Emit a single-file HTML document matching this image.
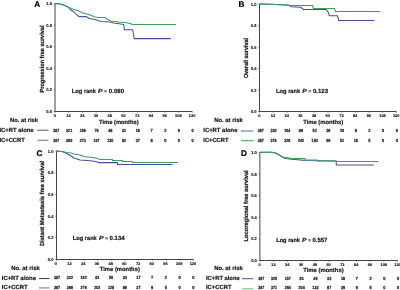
<!DOCTYPE html><html><head><meta charset="utf-8"><style>html,body{margin:0;padding:0;background:#fff;width:400px;height:290px;overflow:hidden}svg{display:block;will-change:transform;filter:blur(0.2px)}text{font-family:"Liberation Sans", sans-serif;text-rendering:geometricPrecision}</style></head><body>
<svg width="400" height="290" viewBox="0 0 400 290">
<rect width="400" height="290" fill="#fff"/>
<path d="M55 3.6V111.5H192.3" fill="none" stroke="#3a3a3a" stroke-width="0.95"/>
<path d="M53.7 111.5H55M53.7 89.92H55M53.7 68.34H55M53.7 46.76H55M53.7 25.18H55M53.7 3.6H55M55 111.5V112.7M68.73 111.5V112.7M82.46 111.5V112.7M96.19 111.5V112.7M109.92 111.5V112.7M123.65 111.5V112.7M137.38 111.5V112.7M151.11 111.5V112.7M164.84 111.5V112.7M178.57 111.5V112.7M192.3 111.5V112.7" stroke="#3a3a3a" stroke-width="0.6"/>
<text x="51.9" y="113" font-size="4.2" font-weight="bold" fill="#1a1a1a" stroke="#1a1a1a" stroke-width="0.15" text-anchor="end" textLength="5.6" lengthAdjust="spacingAndGlyphs">0.0</text>
<text x="51.9" y="91.42" font-size="4.2" font-weight="bold" fill="#1a1a1a" stroke="#1a1a1a" stroke-width="0.15" text-anchor="end" textLength="5.6" lengthAdjust="spacingAndGlyphs">0.2</text>
<text x="51.9" y="69.84" font-size="4.2" font-weight="bold" fill="#1a1a1a" stroke="#1a1a1a" stroke-width="0.15" text-anchor="end" textLength="5.6" lengthAdjust="spacingAndGlyphs">0.4</text>
<text x="51.9" y="48.26" font-size="4.2" font-weight="bold" fill="#1a1a1a" stroke="#1a1a1a" stroke-width="0.15" text-anchor="end" textLength="5.6" lengthAdjust="spacingAndGlyphs">0.6</text>
<text x="51.9" y="26.68" font-size="4.2" font-weight="bold" fill="#1a1a1a" stroke="#1a1a1a" stroke-width="0.15" text-anchor="end" textLength="5.6" lengthAdjust="spacingAndGlyphs">0.8</text>
<text x="51.9" y="5.1" font-size="4.2" font-weight="bold" fill="#1a1a1a" stroke="#1a1a1a" stroke-width="0.15" text-anchor="end" textLength="5.6" lengthAdjust="spacingAndGlyphs">1.0</text>
<text x="54.8" y="117.4" font-size="3.9" font-weight="bold" fill="#1a1a1a" stroke="#1a1a1a" stroke-width="0.15" text-anchor="middle">0</text>
<text x="68.53" y="117.4" font-size="3.9" font-weight="bold" fill="#1a1a1a" stroke="#1a1a1a" stroke-width="0.15" text-anchor="middle">12</text>
<text x="82.26" y="117.4" font-size="3.9" font-weight="bold" fill="#1a1a1a" stroke="#1a1a1a" stroke-width="0.15" text-anchor="middle">24</text>
<text x="95.99" y="117.4" font-size="3.9" font-weight="bold" fill="#1a1a1a" stroke="#1a1a1a" stroke-width="0.15" text-anchor="middle">36</text>
<text x="109.72" y="117.4" font-size="3.9" font-weight="bold" fill="#1a1a1a" stroke="#1a1a1a" stroke-width="0.15" text-anchor="middle">48</text>
<text x="123.45" y="117.4" font-size="3.9" font-weight="bold" fill="#1a1a1a" stroke="#1a1a1a" stroke-width="0.15" text-anchor="middle">60</text>
<text x="137.18" y="117.4" font-size="3.9" font-weight="bold" fill="#1a1a1a" stroke="#1a1a1a" stroke-width="0.15" text-anchor="middle">72</text>
<text x="150.91" y="117.4" font-size="3.9" font-weight="bold" fill="#1a1a1a" stroke="#1a1a1a" stroke-width="0.15" text-anchor="middle">84</text>
<text x="164.64" y="117.4" font-size="3.9" font-weight="bold" fill="#1a1a1a" stroke="#1a1a1a" stroke-width="0.15" text-anchor="middle">96</text>
<text x="178.37" y="117.4" font-size="3.9" font-weight="bold" fill="#1a1a1a" stroke="#1a1a1a" stroke-width="0.15" text-anchor="middle">108</text>
<text x="192.1" y="117.4" font-size="3.9" font-weight="bold" fill="#1a1a1a" stroke="#1a1a1a" stroke-width="0.15" text-anchor="middle">120</text>
<text x="34.2" y="6.8" font-size="8.2" font-weight="bold" fill="#000" stroke="#000" stroke-width="0.2">A</text>
<text transform="translate(43.5 59) rotate(-90)" x="0" y="0" font-size="5.9" font-weight="bold" fill="#1a1a1a" stroke="#1a1a1a" stroke-width="0.25" text-anchor="middle" textLength="67" lengthAdjust="spacingAndGlyphs">Progression free survival</text>
<text x="71.7" y="93" font-size="5.9" font-weight="bold" fill="#1a1a1a" stroke="#1a1a1a" stroke-width="0.2" textLength="10.64" lengthAdjust="spacingAndGlyphs">Log</text>
<text x="83.95" y="93" font-size="5.9" font-weight="bold" fill="#1a1a1a" stroke="#1a1a1a" stroke-width="0.2" textLength="11.94" lengthAdjust="spacingAndGlyphs">rank</text>
<text x="98.1" y="93" font-size="5.9" font-weight="bold" font-style="italic" fill="#1a1a1a" stroke="#1a1a1a" stroke-width="0.2" textLength="4.62" lengthAdjust="spacingAndGlyphs">P</text>
<text x="104.12" y="93" font-size="5.9" font-weight="bold" fill="#1a1a1a" stroke="#1a1a1a" stroke-width="0" textLength="3.11" lengthAdjust="spacingAndGlyphs">=</text>
<text x="108.84" y="93" font-size="5.9" font-weight="bold" fill="#1a1a1a" stroke="#1a1a1a" stroke-width="0.2" textLength="15.26" lengthAdjust="spacingAndGlyphs">0.080</text>
<text x="99" y="124" font-size="5.9" font-weight="bold" fill="#1a1a1a" stroke="#1a1a1a" stroke-width="0.2" textLength="39.7" lengthAdjust="spacingAndGlyphs">Time (months)</text>
<text x="10.1" y="121.5" font-size="5.9" font-weight="bold" fill="#1a1a1a" stroke="#1a1a1a" stroke-width="0.2" textLength="27.8" lengthAdjust="spacingAndGlyphs">No. at risk</text>
<text x="-0.6" y="131.9" font-size="5.9" font-weight="bold" fill="#1a1a1a" stroke="#1a1a1a" stroke-width="0.2" textLength="34.2" lengthAdjust="spacingAndGlyphs">IC+RT alone</text>
<text x="-0.6" y="141.5" font-size="5.9" font-weight="bold" fill="#1a1a1a" stroke="#1a1a1a" stroke-width="0.2" textLength="25.4" lengthAdjust="spacingAndGlyphs">IC+CCRT</text>
<path d="M37.2 130.2H48.5" stroke="#55658a" stroke-width="1.1"/>
<path d="M37.2 140.3H48.5" stroke="#6a8f6a" stroke-width="1.1"/>
<text x="56.3" y="132.1" font-size="4.4" font-weight="bold" fill="#1a1a1a" stroke="#1a1a1a" stroke-width="0.22" text-anchor="middle" textLength="6.1" lengthAdjust="spacingAndGlyphs">387</text>
<text x="69.13" y="132.1" font-size="4.4" font-weight="bold" fill="#1a1a1a" stroke="#1a1a1a" stroke-width="0.22" text-anchor="middle" textLength="6.1" lengthAdjust="spacingAndGlyphs">321</text>
<text x="82.86" y="132.1" font-size="4.4" font-weight="bold" fill="#1a1a1a" stroke="#1a1a1a" stroke-width="0.22" text-anchor="middle" textLength="6.1" lengthAdjust="spacingAndGlyphs">156</text>
<text x="96.59" y="132.1" font-size="4.4" font-weight="bold" fill="#1a1a1a" stroke="#1a1a1a" stroke-width="0.22" text-anchor="middle" textLength="4.2" lengthAdjust="spacingAndGlyphs">79</text>
<text x="110.32" y="132.1" font-size="4.4" font-weight="bold" fill="#1a1a1a" stroke="#1a1a1a" stroke-width="0.22" text-anchor="middle" textLength="4.2" lengthAdjust="spacingAndGlyphs">48</text>
<text x="124.05" y="132.1" font-size="4.4" font-weight="bold" fill="#1a1a1a" stroke="#1a1a1a" stroke-width="0.22" text-anchor="middle" textLength="4.2" lengthAdjust="spacingAndGlyphs">31</text>
<text x="137.78" y="132.1" font-size="4.4" font-weight="bold" fill="#1a1a1a" stroke="#1a1a1a" stroke-width="0.22" text-anchor="middle" textLength="4.2" lengthAdjust="spacingAndGlyphs">16</text>
<text x="151.51" y="132.1" font-size="4.4" font-weight="bold" fill="#1a1a1a" stroke="#1a1a1a" stroke-width="0.22" text-anchor="middle" textLength="2.2" lengthAdjust="spacingAndGlyphs">7</text>
<text x="165.24" y="132.1" font-size="4.4" font-weight="bold" fill="#1a1a1a" stroke="#1a1a1a" stroke-width="0.22" text-anchor="middle" textLength="2.2" lengthAdjust="spacingAndGlyphs">2</text>
<text x="178.97" y="132.1" font-size="4.4" font-weight="bold" fill="#1a1a1a" stroke="#1a1a1a" stroke-width="0.22" text-anchor="middle" textLength="2.2" lengthAdjust="spacingAndGlyphs">0</text>
<text x="192.7" y="132.1" font-size="4.4" font-weight="bold" fill="#1a1a1a" stroke="#1a1a1a" stroke-width="0.22" text-anchor="middle" textLength="2.2" lengthAdjust="spacingAndGlyphs">0</text>
<text x="56.3" y="141.8" font-size="4.4" font-weight="bold" fill="#1a1a1a" stroke="#1a1a1a" stroke-width="0.22" text-anchor="middle" textLength="6.1" lengthAdjust="spacingAndGlyphs">387</text>
<text x="69.13" y="141.8" font-size="4.4" font-weight="bold" fill="#1a1a1a" stroke="#1a1a1a" stroke-width="0.22" text-anchor="middle" textLength="6.1" lengthAdjust="spacingAndGlyphs">369</text>
<text x="82.86" y="141.8" font-size="4.4" font-weight="bold" fill="#1a1a1a" stroke="#1a1a1a" stroke-width="0.22" text-anchor="middle" textLength="6.1" lengthAdjust="spacingAndGlyphs">273</text>
<text x="96.59" y="141.8" font-size="4.4" font-weight="bold" fill="#1a1a1a" stroke="#1a1a1a" stroke-width="0.22" text-anchor="middle" textLength="6.1" lengthAdjust="spacingAndGlyphs">197</text>
<text x="110.32" y="141.8" font-size="4.4" font-weight="bold" fill="#1a1a1a" stroke="#1a1a1a" stroke-width="0.22" text-anchor="middle" textLength="6.1" lengthAdjust="spacingAndGlyphs">130</text>
<text x="124.05" y="141.8" font-size="4.4" font-weight="bold" fill="#1a1a1a" stroke="#1a1a1a" stroke-width="0.22" text-anchor="middle" textLength="4.2" lengthAdjust="spacingAndGlyphs">82</text>
<text x="137.78" y="141.8" font-size="4.4" font-weight="bold" fill="#1a1a1a" stroke="#1a1a1a" stroke-width="0.22" text-anchor="middle" textLength="4.2" lengthAdjust="spacingAndGlyphs">37</text>
<text x="151.51" y="141.8" font-size="4.4" font-weight="bold" fill="#1a1a1a" stroke="#1a1a1a" stroke-width="0.22" text-anchor="middle" textLength="2.2" lengthAdjust="spacingAndGlyphs">8</text>
<text x="165.24" y="141.8" font-size="4.4" font-weight="bold" fill="#1a1a1a" stroke="#1a1a1a" stroke-width="0.22" text-anchor="middle" textLength="2.2" lengthAdjust="spacingAndGlyphs">0</text>
<text x="178.97" y="141.8" font-size="4.4" font-weight="bold" fill="#1a1a1a" stroke="#1a1a1a" stroke-width="0.22" text-anchor="middle" textLength="2.2" lengthAdjust="spacingAndGlyphs">0</text>
<text x="192.7" y="141.8" font-size="4.4" font-weight="bold" fill="#1a1a1a" stroke="#1a1a1a" stroke-width="0.22" text-anchor="middle" textLength="2.2" lengthAdjust="spacingAndGlyphs">0</text>
<path d="M55 3.6 L57 3.6 L62.75 4.5 L67.75 7 L70.25 9.5 L74 12 L77.75 16 L79.6 16.6 L86.5 16.6 L89 18.5 L95.25 19.5 L97.75 20.5 L101.5 21.5 L110 22 L113.75 23 L117.5 23.5 L122.5 24.3 L123.8 24.5 L124.3 29.8 L132.6 29.8 L133.2 32.5 L134.2 38.6 L170.75 38.6" fill="none" stroke="#444ea0" stroke-width="1.05" stroke-linejoin="round"/>
<path d="M55 3.6 L57 3.6 L64 5 L69 7.5 L72.75 9 L77.75 10.5 L82.75 13 L89 14.5 L95.25 17 L97.75 17.5 L105 17.5 L107.5 19.5 L111.25 21 L115 21.5 L118.75 22 L125 22.5 L130 23.5 L132.5 24.5 L176 24.5" fill="none" stroke="#3d9c60" stroke-width="1.05" stroke-linejoin="round"/>
<path d="M259.5 4V111.5H396.4" fill="none" stroke="#3a3a3a" stroke-width="0.95"/>
<path d="M258.2 111.5H259.5M258.2 90H259.5M258.2 68.5H259.5M258.2 47H259.5M258.2 25.5H259.5M258.2 4H259.5M259.5 111.5V112.7M273.19 111.5V112.7M286.88 111.5V112.7M300.57 111.5V112.7M314.26 111.5V112.7M327.95 111.5V112.7M341.64 111.5V112.7M355.33 111.5V112.7M369.02 111.5V112.7M382.71 111.5V112.7M396.4 111.5V112.7" stroke="#3a3a3a" stroke-width="0.6"/>
<text x="256.4" y="113" font-size="4.2" font-weight="bold" fill="#1a1a1a" stroke="#1a1a1a" stroke-width="0.15" text-anchor="end" textLength="5.6" lengthAdjust="spacingAndGlyphs">0.0</text>
<text x="256.4" y="91.5" font-size="4.2" font-weight="bold" fill="#1a1a1a" stroke="#1a1a1a" stroke-width="0.15" text-anchor="end" textLength="5.6" lengthAdjust="spacingAndGlyphs">0.2</text>
<text x="256.4" y="70" font-size="4.2" font-weight="bold" fill="#1a1a1a" stroke="#1a1a1a" stroke-width="0.15" text-anchor="end" textLength="5.6" lengthAdjust="spacingAndGlyphs">0.4</text>
<text x="256.4" y="48.5" font-size="4.2" font-weight="bold" fill="#1a1a1a" stroke="#1a1a1a" stroke-width="0.15" text-anchor="end" textLength="5.6" lengthAdjust="spacingAndGlyphs">0.6</text>
<text x="256.4" y="27" font-size="4.2" font-weight="bold" fill="#1a1a1a" stroke="#1a1a1a" stroke-width="0.15" text-anchor="end" textLength="5.6" lengthAdjust="spacingAndGlyphs">0.8</text>
<text x="256.4" y="5.5" font-size="4.2" font-weight="bold" fill="#1a1a1a" stroke="#1a1a1a" stroke-width="0.15" text-anchor="end" textLength="5.6" lengthAdjust="spacingAndGlyphs">1.0</text>
<text x="259.3" y="117.4" font-size="3.9" font-weight="bold" fill="#1a1a1a" stroke="#1a1a1a" stroke-width="0.15" text-anchor="middle">0</text>
<text x="272.99" y="117.4" font-size="3.9" font-weight="bold" fill="#1a1a1a" stroke="#1a1a1a" stroke-width="0.15" text-anchor="middle">12</text>
<text x="286.68" y="117.4" font-size="3.9" font-weight="bold" fill="#1a1a1a" stroke="#1a1a1a" stroke-width="0.15" text-anchor="middle">24</text>
<text x="300.37" y="117.4" font-size="3.9" font-weight="bold" fill="#1a1a1a" stroke="#1a1a1a" stroke-width="0.15" text-anchor="middle">36</text>
<text x="314.06" y="117.4" font-size="3.9" font-weight="bold" fill="#1a1a1a" stroke="#1a1a1a" stroke-width="0.15" text-anchor="middle">48</text>
<text x="327.75" y="117.4" font-size="3.9" font-weight="bold" fill="#1a1a1a" stroke="#1a1a1a" stroke-width="0.15" text-anchor="middle">60</text>
<text x="341.44" y="117.4" font-size="3.9" font-weight="bold" fill="#1a1a1a" stroke="#1a1a1a" stroke-width="0.15" text-anchor="middle">72</text>
<text x="355.13" y="117.4" font-size="3.9" font-weight="bold" fill="#1a1a1a" stroke="#1a1a1a" stroke-width="0.15" text-anchor="middle">84</text>
<text x="368.82" y="117.4" font-size="3.9" font-weight="bold" fill="#1a1a1a" stroke="#1a1a1a" stroke-width="0.15" text-anchor="middle">96</text>
<text x="382.51" y="117.4" font-size="3.9" font-weight="bold" fill="#1a1a1a" stroke="#1a1a1a" stroke-width="0.15" text-anchor="middle">108</text>
<text x="396.2" y="117.4" font-size="3.9" font-weight="bold" fill="#1a1a1a" stroke="#1a1a1a" stroke-width="0.15" text-anchor="middle">120</text>
<text x="238.4" y="7" font-size="8.2" font-weight="bold" fill="#000" stroke="#000" stroke-width="0.2">B</text>
<text transform="translate(248.4 58.1) rotate(-90)" x="0" y="0" font-size="5.9" font-weight="bold" fill="#1a1a1a" stroke="#1a1a1a" stroke-width="0.25" text-anchor="middle" textLength="40" lengthAdjust="spacingAndGlyphs">Overall survival</text>
<text x="276" y="93.1" font-size="5.9" font-weight="bold" fill="#1a1a1a" stroke="#1a1a1a" stroke-width="0.2" textLength="10.58" lengthAdjust="spacingAndGlyphs">Log</text>
<text x="288.18" y="93.1" font-size="5.9" font-weight="bold" fill="#1a1a1a" stroke="#1a1a1a" stroke-width="0.2" textLength="11.88" lengthAdjust="spacingAndGlyphs">rank</text>
<text x="302.25" y="93.1" font-size="5.9" font-weight="bold" font-style="italic" fill="#1a1a1a" stroke="#1a1a1a" stroke-width="0.2" textLength="4.59" lengthAdjust="spacingAndGlyphs">P</text>
<text x="308.24" y="93.1" font-size="5.9" font-weight="bold" fill="#1a1a1a" stroke="#1a1a1a" stroke-width="0" textLength="3.09" lengthAdjust="spacingAndGlyphs">=</text>
<text x="312.93" y="93.1" font-size="5.9" font-weight="bold" fill="#1a1a1a" stroke="#1a1a1a" stroke-width="0.2" textLength="15.17" lengthAdjust="spacingAndGlyphs">0.123</text>
<text x="303.2" y="124.2" font-size="5.9" font-weight="bold" fill="#1a1a1a" stroke="#1a1a1a" stroke-width="0.2" textLength="40.1" lengthAdjust="spacingAndGlyphs">Time (months)</text>
<text x="214.2" y="121.7" font-size="5.9" font-weight="bold" fill="#1a1a1a" stroke="#1a1a1a" stroke-width="0.2" textLength="28.5" lengthAdjust="spacingAndGlyphs">No. at risk</text>
<text x="203.3" y="131.9" font-size="5.9" font-weight="bold" fill="#1a1a1a" stroke="#1a1a1a" stroke-width="0.2" textLength="34.2" lengthAdjust="spacingAndGlyphs">IC+RT alone</text>
<text x="203.3" y="141.5" font-size="5.9" font-weight="bold" fill="#1a1a1a" stroke="#1a1a1a" stroke-width="0.2" textLength="25.2" lengthAdjust="spacingAndGlyphs">IC+CCRT</text>
<path d="M240.9 131H253.3" stroke="#5878a8" stroke-width="1.1"/>
<path d="M240.9 140.7H253.3" stroke="#50a060" stroke-width="1.1"/>
<text x="260.8" y="132.1" font-size="4.4" font-weight="bold" fill="#1a1a1a" stroke="#1a1a1a" stroke-width="0.22" text-anchor="middle" textLength="6.1" lengthAdjust="spacingAndGlyphs">387</text>
<text x="273.59" y="132.1" font-size="4.4" font-weight="bold" fill="#1a1a1a" stroke="#1a1a1a" stroke-width="0.22" text-anchor="middle" textLength="6.1" lengthAdjust="spacingAndGlyphs">330</text>
<text x="287.28" y="132.1" font-size="4.4" font-weight="bold" fill="#1a1a1a" stroke="#1a1a1a" stroke-width="0.22" text-anchor="middle" textLength="6.1" lengthAdjust="spacingAndGlyphs">164</text>
<text x="300.97" y="132.1" font-size="4.4" font-weight="bold" fill="#1a1a1a" stroke="#1a1a1a" stroke-width="0.22" text-anchor="middle" textLength="4.2" lengthAdjust="spacingAndGlyphs">86</text>
<text x="314.66" y="132.1" font-size="4.4" font-weight="bold" fill="#1a1a1a" stroke="#1a1a1a" stroke-width="0.22" text-anchor="middle" textLength="4.2" lengthAdjust="spacingAndGlyphs">52</text>
<text x="328.35" y="132.1" font-size="4.4" font-weight="bold" fill="#1a1a1a" stroke="#1a1a1a" stroke-width="0.22" text-anchor="middle" textLength="4.2" lengthAdjust="spacingAndGlyphs">36</text>
<text x="342.04" y="132.1" font-size="4.4" font-weight="bold" fill="#1a1a1a" stroke="#1a1a1a" stroke-width="0.22" text-anchor="middle" textLength="4.2" lengthAdjust="spacingAndGlyphs">20</text>
<text x="355.73" y="132.1" font-size="4.4" font-weight="bold" fill="#1a1a1a" stroke="#1a1a1a" stroke-width="0.22" text-anchor="middle" textLength="2.2" lengthAdjust="spacingAndGlyphs">8</text>
<text x="369.42" y="132.1" font-size="4.4" font-weight="bold" fill="#1a1a1a" stroke="#1a1a1a" stroke-width="0.22" text-anchor="middle" textLength="2.2" lengthAdjust="spacingAndGlyphs">2</text>
<text x="383.11" y="132.1" font-size="4.4" font-weight="bold" fill="#1a1a1a" stroke="#1a1a1a" stroke-width="0.22" text-anchor="middle" textLength="2.2" lengthAdjust="spacingAndGlyphs">0</text>
<text x="396.8" y="132.1" font-size="4.4" font-weight="bold" fill="#1a1a1a" stroke="#1a1a1a" stroke-width="0.22" text-anchor="middle" textLength="2.2" lengthAdjust="spacingAndGlyphs">0</text>
<text x="260.8" y="142.1" font-size="4.4" font-weight="bold" fill="#1a1a1a" stroke="#1a1a1a" stroke-width="0.22" text-anchor="middle" textLength="6.1" lengthAdjust="spacingAndGlyphs">387</text>
<text x="273.59" y="142.1" font-size="4.4" font-weight="bold" fill="#1a1a1a" stroke="#1a1a1a" stroke-width="0.22" text-anchor="middle" textLength="6.1" lengthAdjust="spacingAndGlyphs">376</text>
<text x="287.28" y="142.1" font-size="4.4" font-weight="bold" fill="#1a1a1a" stroke="#1a1a1a" stroke-width="0.22" text-anchor="middle" textLength="6.1" lengthAdjust="spacingAndGlyphs">326</text>
<text x="300.97" y="142.1" font-size="4.4" font-weight="bold" fill="#1a1a1a" stroke="#1a1a1a" stroke-width="0.22" text-anchor="middle" textLength="6.1" lengthAdjust="spacingAndGlyphs">242</text>
<text x="314.66" y="142.1" font-size="4.4" font-weight="bold" fill="#1a1a1a" stroke="#1a1a1a" stroke-width="0.22" text-anchor="middle" textLength="6.1" lengthAdjust="spacingAndGlyphs">180</text>
<text x="328.35" y="142.1" font-size="4.4" font-weight="bold" fill="#1a1a1a" stroke="#1a1a1a" stroke-width="0.22" text-anchor="middle" textLength="4.2" lengthAdjust="spacingAndGlyphs">99</text>
<text x="342.04" y="142.1" font-size="4.4" font-weight="bold" fill="#1a1a1a" stroke="#1a1a1a" stroke-width="0.22" text-anchor="middle" textLength="4.2" lengthAdjust="spacingAndGlyphs">51</text>
<text x="355.73" y="142.1" font-size="4.4" font-weight="bold" fill="#1a1a1a" stroke="#1a1a1a" stroke-width="0.22" text-anchor="middle" textLength="4.2" lengthAdjust="spacingAndGlyphs">16</text>
<text x="369.42" y="142.1" font-size="4.4" font-weight="bold" fill="#1a1a1a" stroke="#1a1a1a" stroke-width="0.22" text-anchor="middle" textLength="2.2" lengthAdjust="spacingAndGlyphs">5</text>
<text x="383.11" y="142.1" font-size="4.4" font-weight="bold" fill="#1a1a1a" stroke="#1a1a1a" stroke-width="0.22" text-anchor="middle" textLength="2.2" lengthAdjust="spacingAndGlyphs">0</text>
<text x="396.8" y="142.1" font-size="4.4" font-weight="bold" fill="#1a1a1a" stroke="#1a1a1a" stroke-width="0.22" text-anchor="middle" textLength="2.2" lengthAdjust="spacingAndGlyphs">0</text>
<path d="M259.5 4 L270 4.3 L281 4.7 L289 5.2 L291 6.8 L301 7.3 L303.5 9.5 L326.25 9.5 L328.1 12 L329.4 15.8 L337.5 15.8 L338.75 20.5 L374.5 20.5" fill="none" stroke="#444ea0" stroke-width="1.05" stroke-linejoin="round"/>
<path d="M259.5 4 L270 4.3 L281 4.7 L289 5.2 L291 5.5 L312.6 5.5 L313.4 8.5 L334.6 8.5 L335.4 11.5 L380.2 11.5" fill="none" stroke="#3d9c60" stroke-width="1.05" stroke-linejoin="round"/>
<path d="M56.5 151.1V259.5H193.6" fill="none" stroke="#3a3a3a" stroke-width="0.95"/>
<path d="M55.2 259.5H56.5M55.2 237.82H56.5M55.2 216.14H56.5M55.2 194.46H56.5M55.2 172.78H56.5M55.2 151.1H56.5M56.5 259.5V260.7M70.21 259.5V260.7M83.92 259.5V260.7M97.63 259.5V260.7M111.34 259.5V260.7M125.05 259.5V260.7M138.76 259.5V260.7M152.47 259.5V260.7M166.18 259.5V260.7M179.89 259.5V260.7M193.6 259.5V260.7" stroke="#3a3a3a" stroke-width="0.6"/>
<text x="53.4" y="261" font-size="4.2" font-weight="bold" fill="#1a1a1a" stroke="#1a1a1a" stroke-width="0.15" text-anchor="end" textLength="5.6" lengthAdjust="spacingAndGlyphs">0.0</text>
<text x="53.4" y="239.32" font-size="4.2" font-weight="bold" fill="#1a1a1a" stroke="#1a1a1a" stroke-width="0.15" text-anchor="end" textLength="5.6" lengthAdjust="spacingAndGlyphs">0.2</text>
<text x="53.4" y="217.64" font-size="4.2" font-weight="bold" fill="#1a1a1a" stroke="#1a1a1a" stroke-width="0.15" text-anchor="end" textLength="5.6" lengthAdjust="spacingAndGlyphs">0.4</text>
<text x="53.4" y="195.96" font-size="4.2" font-weight="bold" fill="#1a1a1a" stroke="#1a1a1a" stroke-width="0.15" text-anchor="end" textLength="5.6" lengthAdjust="spacingAndGlyphs">0.6</text>
<text x="53.4" y="174.28" font-size="4.2" font-weight="bold" fill="#1a1a1a" stroke="#1a1a1a" stroke-width="0.15" text-anchor="end" textLength="5.6" lengthAdjust="spacingAndGlyphs">0.8</text>
<text x="53.4" y="152.6" font-size="4.2" font-weight="bold" fill="#1a1a1a" stroke="#1a1a1a" stroke-width="0.15" text-anchor="end" textLength="5.6" lengthAdjust="spacingAndGlyphs">1.0</text>
<text x="55.81" y="265.4" font-size="3.9" font-weight="bold" fill="#1a1a1a" stroke="#1a1a1a" stroke-width="0.15" text-anchor="middle">0</text>
<text x="69.52" y="265.4" font-size="3.9" font-weight="bold" fill="#1a1a1a" stroke="#1a1a1a" stroke-width="0.15" text-anchor="middle">12</text>
<text x="83.23" y="265.4" font-size="3.9" font-weight="bold" fill="#1a1a1a" stroke="#1a1a1a" stroke-width="0.15" text-anchor="middle">24</text>
<text x="96.94" y="265.4" font-size="3.9" font-weight="bold" fill="#1a1a1a" stroke="#1a1a1a" stroke-width="0.15" text-anchor="middle">36</text>
<text x="110.65" y="265.4" font-size="3.9" font-weight="bold" fill="#1a1a1a" stroke="#1a1a1a" stroke-width="0.15" text-anchor="middle">48</text>
<text x="124.36" y="265.4" font-size="3.9" font-weight="bold" fill="#1a1a1a" stroke="#1a1a1a" stroke-width="0.15" text-anchor="middle">60</text>
<text x="138.07" y="265.4" font-size="3.9" font-weight="bold" fill="#1a1a1a" stroke="#1a1a1a" stroke-width="0.15" text-anchor="middle">72</text>
<text x="151.78" y="265.4" font-size="3.9" font-weight="bold" fill="#1a1a1a" stroke="#1a1a1a" stroke-width="0.15" text-anchor="middle">84</text>
<text x="165.49" y="265.4" font-size="3.9" font-weight="bold" fill="#1a1a1a" stroke="#1a1a1a" stroke-width="0.15" text-anchor="middle">96</text>
<text x="179.2" y="265.4" font-size="3.9" font-weight="bold" fill="#1a1a1a" stroke="#1a1a1a" stroke-width="0.15" text-anchor="middle">108</text>
<text x="192.91" y="265.4" font-size="3.9" font-weight="bold" fill="#1a1a1a" stroke="#1a1a1a" stroke-width="0.15" text-anchor="middle">120</text>
<text x="36.5" y="155.7" font-size="8.2" font-weight="bold" fill="#000" stroke="#000" stroke-width="0.2">C</text>
<text transform="translate(43.5 203.5) rotate(-90)" x="0" y="0" font-size="5.9" font-weight="bold" fill="#1a1a1a" stroke="#1a1a1a" stroke-width="0.25" text-anchor="middle" textLength="85" lengthAdjust="spacingAndGlyphs">Distant Metastasis free survival</text>
<text x="72.7" y="240.1" font-size="5.9" font-weight="bold" fill="#1a1a1a" stroke="#1a1a1a" stroke-width="0.2" textLength="10.56" lengthAdjust="spacingAndGlyphs">Log</text>
<text x="84.85" y="240.1" font-size="5.9" font-weight="bold" fill="#1a1a1a" stroke="#1a1a1a" stroke-width="0.2" textLength="11.86" lengthAdjust="spacingAndGlyphs">rank</text>
<text x="98.9" y="240.1" font-size="5.9" font-weight="bold" font-style="italic" fill="#1a1a1a" stroke="#1a1a1a" stroke-width="0.2" textLength="4.58" lengthAdjust="spacingAndGlyphs">P</text>
<text x="104.88" y="240.1" font-size="5.9" font-weight="bold" fill="#1a1a1a" stroke="#1a1a1a" stroke-width="0" textLength="3.09" lengthAdjust="spacingAndGlyphs">=</text>
<text x="109.56" y="240.1" font-size="5.9" font-weight="bold" fill="#1a1a1a" stroke="#1a1a1a" stroke-width="0.2" textLength="15.14" lengthAdjust="spacingAndGlyphs">0.134</text>
<text x="99.75" y="271.2" font-size="5.9" font-weight="bold" fill="#1a1a1a" stroke="#1a1a1a" stroke-width="0.2" textLength="40.15" lengthAdjust="spacingAndGlyphs">Time (months)</text>
<text x="11.2" y="269.5" font-size="5.9" font-weight="bold" fill="#1a1a1a" stroke="#1a1a1a" stroke-width="0.2" textLength="28.5" lengthAdjust="spacingAndGlyphs">No. at risk</text>
<text x="1.8" y="280" font-size="5.9" font-weight="bold" fill="#1a1a1a" stroke="#1a1a1a" stroke-width="0.2" textLength="34.2" lengthAdjust="spacingAndGlyphs">IC+RT alone</text>
<text x="1.8" y="288.8" font-size="5.9" font-weight="bold" fill="#1a1a1a" stroke="#1a1a1a" stroke-width="0.2" textLength="25.9" lengthAdjust="spacingAndGlyphs">IC+CCRT</text>
<path d="M38.9 278.5H49.6" stroke="#45457a" stroke-width="1.1"/>
<path d="M38.9 287.9H49.6" stroke="#5aa070" stroke-width="1.1"/>
<text x="57.1" y="279.1" font-size="4.4" font-weight="bold" fill="#1a1a1a" stroke="#1a1a1a" stroke-width="0.22" text-anchor="middle" textLength="6.1" lengthAdjust="spacingAndGlyphs">387</text>
<text x="69.91" y="279.1" font-size="4.4" font-weight="bold" fill="#1a1a1a" stroke="#1a1a1a" stroke-width="0.22" text-anchor="middle" textLength="6.1" lengthAdjust="spacingAndGlyphs">322</text>
<text x="83.62" y="279.1" font-size="4.4" font-weight="bold" fill="#1a1a1a" stroke="#1a1a1a" stroke-width="0.22" text-anchor="middle" textLength="6.1" lengthAdjust="spacingAndGlyphs">162</text>
<text x="97.33" y="279.1" font-size="4.4" font-weight="bold" fill="#1a1a1a" stroke="#1a1a1a" stroke-width="0.22" text-anchor="middle" textLength="4.2" lengthAdjust="spacingAndGlyphs">81</text>
<text x="111.04" y="279.1" font-size="4.4" font-weight="bold" fill="#1a1a1a" stroke="#1a1a1a" stroke-width="0.22" text-anchor="middle" textLength="4.2" lengthAdjust="spacingAndGlyphs">50</text>
<text x="124.75" y="279.1" font-size="4.4" font-weight="bold" fill="#1a1a1a" stroke="#1a1a1a" stroke-width="0.22" text-anchor="middle" textLength="4.2" lengthAdjust="spacingAndGlyphs">33</text>
<text x="138.46" y="279.1" font-size="4.4" font-weight="bold" fill="#1a1a1a" stroke="#1a1a1a" stroke-width="0.22" text-anchor="middle" textLength="4.2" lengthAdjust="spacingAndGlyphs">17</text>
<text x="152.17" y="279.1" font-size="4.4" font-weight="bold" fill="#1a1a1a" stroke="#1a1a1a" stroke-width="0.22" text-anchor="middle" textLength="2.2" lengthAdjust="spacingAndGlyphs">7</text>
<text x="165.88" y="279.1" font-size="4.4" font-weight="bold" fill="#1a1a1a" stroke="#1a1a1a" stroke-width="0.22" text-anchor="middle" textLength="2.2" lengthAdjust="spacingAndGlyphs">2</text>
<text x="179.59" y="279.1" font-size="4.4" font-weight="bold" fill="#1a1a1a" stroke="#1a1a1a" stroke-width="0.22" text-anchor="middle" textLength="2.2" lengthAdjust="spacingAndGlyphs">0</text>
<text x="193.3" y="279.1" font-size="4.4" font-weight="bold" fill="#1a1a1a" stroke="#1a1a1a" stroke-width="0.22" text-anchor="middle" textLength="2.2" lengthAdjust="spacingAndGlyphs">0</text>
<text x="57.1" y="288.8" font-size="4.4" font-weight="bold" fill="#1a1a1a" stroke="#1a1a1a" stroke-width="0.22" text-anchor="middle" textLength="6.1" lengthAdjust="spacingAndGlyphs">387</text>
<text x="69.91" y="288.8" font-size="4.4" font-weight="bold" fill="#1a1a1a" stroke="#1a1a1a" stroke-width="0.22" text-anchor="middle" textLength="6.1" lengthAdjust="spacingAndGlyphs">366</text>
<text x="83.62" y="288.8" font-size="4.4" font-weight="bold" fill="#1a1a1a" stroke="#1a1a1a" stroke-width="0.22" text-anchor="middle" textLength="6.1" lengthAdjust="spacingAndGlyphs">276</text>
<text x="97.33" y="288.8" font-size="4.4" font-weight="bold" fill="#1a1a1a" stroke="#1a1a1a" stroke-width="0.22" text-anchor="middle" textLength="6.1" lengthAdjust="spacingAndGlyphs">202</text>
<text x="111.04" y="288.8" font-size="4.4" font-weight="bold" fill="#1a1a1a" stroke="#1a1a1a" stroke-width="0.22" text-anchor="middle" textLength="6.1" lengthAdjust="spacingAndGlyphs">128</text>
<text x="124.75" y="288.8" font-size="4.4" font-weight="bold" fill="#1a1a1a" stroke="#1a1a1a" stroke-width="0.22" text-anchor="middle" textLength="4.2" lengthAdjust="spacingAndGlyphs">86</text>
<text x="138.46" y="288.8" font-size="4.4" font-weight="bold" fill="#1a1a1a" stroke="#1a1a1a" stroke-width="0.22" text-anchor="middle" textLength="4.2" lengthAdjust="spacingAndGlyphs">37</text>
<text x="152.17" y="288.8" font-size="4.4" font-weight="bold" fill="#1a1a1a" stroke="#1a1a1a" stroke-width="0.22" text-anchor="middle" textLength="2.2" lengthAdjust="spacingAndGlyphs">9</text>
<text x="165.88" y="288.8" font-size="4.4" font-weight="bold" fill="#1a1a1a" stroke="#1a1a1a" stroke-width="0.22" text-anchor="middle" textLength="2.2" lengthAdjust="spacingAndGlyphs">5</text>
<text x="179.59" y="288.8" font-size="4.4" font-weight="bold" fill="#1a1a1a" stroke="#1a1a1a" stroke-width="0.22" text-anchor="middle" textLength="2.2" lengthAdjust="spacingAndGlyphs">0</text>
<text x="193.3" y="288.8" font-size="4.4" font-weight="bold" fill="#1a1a1a" stroke="#1a1a1a" stroke-width="0.22" text-anchor="middle" textLength="2.2" lengthAdjust="spacingAndGlyphs">0</text>
<path d="M56.1 151.1 L62.5 151.5 L67.5 154 L71.25 156 L73.75 158 L80 160 L87.5 160.5 L92.5 161 L97.5 162 L98.75 162.6 L117.5 162.6 L117.5 164.5 L172.5 164.5" fill="none" stroke="#444ea0" stroke-width="1.05" stroke-linejoin="round"/>
<path d="M56.1 151.1 L63.75 151.7 L66.25 152.5 L71.25 153 L73.75 154 L80 155 L83.75 156.5 L92.5 157.5 L97.5 158.5 L100 159.5 L112.5 159.5 L112.5 160.5 L122.5 160.5 L122.5 161.5 L132.5 161.5 L132.5 162.5 L178 162.5" fill="none" stroke="#3d9c60" stroke-width="1.05" stroke-linejoin="round"/>
<path d="M259.9 152.5V260.5H397.7" fill="none" stroke="#3a3a3a" stroke-width="0.95"/>
<path d="M258.6 260.5H259.9M258.6 238.9H259.9M258.6 217.3H259.9M258.6 195.7H259.9M258.6 174.1H259.9M258.6 152.5H259.9M259.9 260.5V261.7M273.68 260.5V261.7M287.46 260.5V261.7M301.24 260.5V261.7M315.02 260.5V261.7M328.8 260.5V261.7M342.58 260.5V261.7M356.36 260.5V261.7M370.14 260.5V261.7M383.92 260.5V261.7M397.7 260.5V261.7" stroke="#3a3a3a" stroke-width="0.6"/>
<text x="256.8" y="262" font-size="4.2" font-weight="bold" fill="#1a1a1a" stroke="#1a1a1a" stroke-width="0.15" text-anchor="end" textLength="5.6" lengthAdjust="spacingAndGlyphs">0.0</text>
<text x="256.8" y="240.4" font-size="4.2" font-weight="bold" fill="#1a1a1a" stroke="#1a1a1a" stroke-width="0.15" text-anchor="end" textLength="5.6" lengthAdjust="spacingAndGlyphs">0.2</text>
<text x="256.8" y="218.8" font-size="4.2" font-weight="bold" fill="#1a1a1a" stroke="#1a1a1a" stroke-width="0.15" text-anchor="end" textLength="5.6" lengthAdjust="spacingAndGlyphs">0.4</text>
<text x="256.8" y="197.2" font-size="4.2" font-weight="bold" fill="#1a1a1a" stroke="#1a1a1a" stroke-width="0.15" text-anchor="end" textLength="5.6" lengthAdjust="spacingAndGlyphs">0.6</text>
<text x="256.8" y="175.6" font-size="4.2" font-weight="bold" fill="#1a1a1a" stroke="#1a1a1a" stroke-width="0.15" text-anchor="end" textLength="5.6" lengthAdjust="spacingAndGlyphs">0.8</text>
<text x="256.8" y="154" font-size="4.2" font-weight="bold" fill="#1a1a1a" stroke="#1a1a1a" stroke-width="0.15" text-anchor="end" textLength="5.6" lengthAdjust="spacingAndGlyphs">1.0</text>
<text x="259.7" y="266.4" font-size="3.9" font-weight="bold" fill="#1a1a1a" stroke="#1a1a1a" stroke-width="0.15" text-anchor="middle">0</text>
<text x="273.48" y="266.4" font-size="3.9" font-weight="bold" fill="#1a1a1a" stroke="#1a1a1a" stroke-width="0.15" text-anchor="middle">12</text>
<text x="287.26" y="266.4" font-size="3.9" font-weight="bold" fill="#1a1a1a" stroke="#1a1a1a" stroke-width="0.15" text-anchor="middle">24</text>
<text x="301.04" y="266.4" font-size="3.9" font-weight="bold" fill="#1a1a1a" stroke="#1a1a1a" stroke-width="0.15" text-anchor="middle">36</text>
<text x="314.82" y="266.4" font-size="3.9" font-weight="bold" fill="#1a1a1a" stroke="#1a1a1a" stroke-width="0.15" text-anchor="middle">48</text>
<text x="328.6" y="266.4" font-size="3.9" font-weight="bold" fill="#1a1a1a" stroke="#1a1a1a" stroke-width="0.15" text-anchor="middle">60</text>
<text x="342.38" y="266.4" font-size="3.9" font-weight="bold" fill="#1a1a1a" stroke="#1a1a1a" stroke-width="0.15" text-anchor="middle">72</text>
<text x="356.16" y="266.4" font-size="3.9" font-weight="bold" fill="#1a1a1a" stroke="#1a1a1a" stroke-width="0.15" text-anchor="middle">84</text>
<text x="369.94" y="266.4" font-size="3.9" font-weight="bold" fill="#1a1a1a" stroke="#1a1a1a" stroke-width="0.15" text-anchor="middle">96</text>
<text x="383.72" y="266.4" font-size="3.9" font-weight="bold" fill="#1a1a1a" stroke="#1a1a1a" stroke-width="0.15" text-anchor="middle">108</text>
<text x="397.5" y="266.4" font-size="3.9" font-weight="bold" fill="#1a1a1a" stroke="#1a1a1a" stroke-width="0.15" text-anchor="middle">120</text>
<text x="241.1" y="155.7" font-size="8.2" font-weight="bold" fill="#000" stroke="#000" stroke-width="0.2">D</text>
<text transform="translate(248.4 205.85) rotate(-90)" x="0" y="0" font-size="5.9" font-weight="bold" fill="#1a1a1a" stroke="#1a1a1a" stroke-width="0.25" text-anchor="middle" textLength="71.1" lengthAdjust="spacingAndGlyphs">Locoregional free survival</text>
<text x="276.2" y="241.9" font-size="5.9" font-weight="bold" fill="#1a1a1a" stroke="#1a1a1a" stroke-width="0.2" textLength="10.4" lengthAdjust="spacingAndGlyphs">Log</text>
<text x="288.16" y="241.9" font-size="5.9" font-weight="bold" fill="#1a1a1a" stroke="#1a1a1a" stroke-width="0.2" textLength="11.68" lengthAdjust="spacingAndGlyphs">rank</text>
<text x="301.99" y="241.9" font-size="5.9" font-weight="bold" font-style="italic" fill="#1a1a1a" stroke="#1a1a1a" stroke-width="0.2" textLength="4.52" lengthAdjust="spacingAndGlyphs">P</text>
<text x="307.88" y="241.9" font-size="5.9" font-weight="bold" fill="#1a1a1a" stroke="#1a1a1a" stroke-width="0" textLength="3.05" lengthAdjust="spacingAndGlyphs">=</text>
<text x="312.49" y="241.9" font-size="5.9" font-weight="bold" fill="#1a1a1a" stroke="#1a1a1a" stroke-width="0.2" textLength="14.91" lengthAdjust="spacingAndGlyphs">0.557</text>
<text x="303.2" y="272.3" font-size="5.9" font-weight="bold" fill="#1a1a1a" stroke="#1a1a1a" stroke-width="0.2" textLength="40.5" lengthAdjust="spacingAndGlyphs">Time (months)</text>
<text x="214.2" y="270.2" font-size="5.9" font-weight="bold" fill="#1a1a1a" stroke="#1a1a1a" stroke-width="0.2" textLength="28.5" lengthAdjust="spacingAndGlyphs">No. at risk</text>
<text x="206" y="280.1" font-size="5.9" font-weight="bold" fill="#1a1a1a" stroke="#1a1a1a" stroke-width="0.2" textLength="33.7" lengthAdjust="spacingAndGlyphs">IC+RT alone</text>
<text x="206" y="289.1" font-size="5.9" font-weight="bold" fill="#1a1a1a" stroke="#1a1a1a" stroke-width="0.2" textLength="25.5" lengthAdjust="spacingAndGlyphs">IC+CCRT</text>
<path d="M242.2 278.7H253.3" stroke="#5a5a9a" stroke-width="1.1"/>
<path d="M242.2 288.8H253.3" stroke="#6cc47c" stroke-width="1.1"/>
<text x="261.2" y="279.8" font-size="4.4" font-weight="bold" fill="#1a1a1a" stroke="#1a1a1a" stroke-width="0.22" text-anchor="middle" textLength="6.1" lengthAdjust="spacingAndGlyphs">387</text>
<text x="274.08" y="279.8" font-size="4.4" font-weight="bold" fill="#1a1a1a" stroke="#1a1a1a" stroke-width="0.22" text-anchor="middle" textLength="6.1" lengthAdjust="spacingAndGlyphs">325</text>
<text x="287.86" y="279.8" font-size="4.4" font-weight="bold" fill="#1a1a1a" stroke="#1a1a1a" stroke-width="0.22" text-anchor="middle" textLength="6.1" lengthAdjust="spacingAndGlyphs">157</text>
<text x="301.64" y="279.8" font-size="4.4" font-weight="bold" fill="#1a1a1a" stroke="#1a1a1a" stroke-width="0.22" text-anchor="middle" textLength="4.2" lengthAdjust="spacingAndGlyphs">81</text>
<text x="315.42" y="279.8" font-size="4.4" font-weight="bold" fill="#1a1a1a" stroke="#1a1a1a" stroke-width="0.22" text-anchor="middle" textLength="4.2" lengthAdjust="spacingAndGlyphs">49</text>
<text x="329.2" y="279.8" font-size="4.4" font-weight="bold" fill="#1a1a1a" stroke="#1a1a1a" stroke-width="0.22" text-anchor="middle" textLength="4.2" lengthAdjust="spacingAndGlyphs">33</text>
<text x="342.98" y="279.8" font-size="4.4" font-weight="bold" fill="#1a1a1a" stroke="#1a1a1a" stroke-width="0.22" text-anchor="middle" textLength="4.2" lengthAdjust="spacingAndGlyphs">16</text>
<text x="356.76" y="279.8" font-size="4.4" font-weight="bold" fill="#1a1a1a" stroke="#1a1a1a" stroke-width="0.22" text-anchor="middle" textLength="2.2" lengthAdjust="spacingAndGlyphs">7</text>
<text x="370.54" y="279.8" font-size="4.4" font-weight="bold" fill="#1a1a1a" stroke="#1a1a1a" stroke-width="0.22" text-anchor="middle" textLength="2.2" lengthAdjust="spacingAndGlyphs">2</text>
<text x="384.32" y="279.8" font-size="4.4" font-weight="bold" fill="#1a1a1a" stroke="#1a1a1a" stroke-width="0.22" text-anchor="middle" textLength="2.2" lengthAdjust="spacingAndGlyphs">0</text>
<text x="398.1" y="279.8" font-size="4.4" font-weight="bold" fill="#1a1a1a" stroke="#1a1a1a" stroke-width="0.22" text-anchor="middle" textLength="2.2" lengthAdjust="spacingAndGlyphs">0</text>
<text x="261.2" y="288.8" font-size="4.4" font-weight="bold" fill="#1a1a1a" stroke="#1a1a1a" stroke-width="0.22" text-anchor="middle" textLength="6.1" lengthAdjust="spacingAndGlyphs">387</text>
<text x="274.08" y="288.8" font-size="4.4" font-weight="bold" fill="#1a1a1a" stroke="#1a1a1a" stroke-width="0.22" text-anchor="middle" textLength="6.1" lengthAdjust="spacingAndGlyphs">371</text>
<text x="287.86" y="288.8" font-size="4.4" font-weight="bold" fill="#1a1a1a" stroke="#1a1a1a" stroke-width="0.22" text-anchor="middle" textLength="6.1" lengthAdjust="spacingAndGlyphs">284</text>
<text x="301.64" y="288.8" font-size="4.4" font-weight="bold" fill="#1a1a1a" stroke="#1a1a1a" stroke-width="0.22" text-anchor="middle" textLength="6.1" lengthAdjust="spacingAndGlyphs">204</text>
<text x="315.42" y="288.8" font-size="4.4" font-weight="bold" fill="#1a1a1a" stroke="#1a1a1a" stroke-width="0.22" text-anchor="middle" textLength="6.1" lengthAdjust="spacingAndGlyphs">133</text>
<text x="329.2" y="288.8" font-size="4.4" font-weight="bold" fill="#1a1a1a" stroke="#1a1a1a" stroke-width="0.22" text-anchor="middle" textLength="4.2" lengthAdjust="spacingAndGlyphs">87</text>
<text x="342.98" y="288.8" font-size="4.4" font-weight="bold" fill="#1a1a1a" stroke="#1a1a1a" stroke-width="0.22" text-anchor="middle" textLength="4.2" lengthAdjust="spacingAndGlyphs">39</text>
<text x="356.76" y="288.8" font-size="4.4" font-weight="bold" fill="#1a1a1a" stroke="#1a1a1a" stroke-width="0.22" text-anchor="middle" textLength="2.2" lengthAdjust="spacingAndGlyphs">9</text>
<text x="370.54" y="288.8" font-size="4.4" font-weight="bold" fill="#1a1a1a" stroke="#1a1a1a" stroke-width="0.22" text-anchor="middle" textLength="2.2" lengthAdjust="spacingAndGlyphs">5</text>
<text x="384.32" y="288.8" font-size="4.4" font-weight="bold" fill="#1a1a1a" stroke="#1a1a1a" stroke-width="0.22" text-anchor="middle" textLength="2.2" lengthAdjust="spacingAndGlyphs">0</text>
<text x="398.1" y="288.8" font-size="4.4" font-weight="bold" fill="#1a1a1a" stroke="#1a1a1a" stroke-width="0.22" text-anchor="middle" textLength="2.2" lengthAdjust="spacingAndGlyphs">0</text>
<path d="M259.6 152.3 L271.75 152.3 L275.5 153 L279.25 155 L283 157.5 L285.5 158.5 L291.75 159.2 L295.5 159.5 L305 160.5 L336.25 161 L336.25 165 L373.75 165" fill="none" stroke="#444ea0" stroke-width="1.05" stroke-linejoin="round"/>
<path d="M259.6 152.3 L271.75 152.3 L275.5 153 L279.25 155 L283 157 L285.5 157.3 L291.75 158.6 L305 158.6 L305 160 L317.5 160 L317.5 161 L336.25 161 L336.25 161.5 L378.75 161.5" fill="none" stroke="#3d9c60" stroke-width="1.05" stroke-linejoin="round"/>
</svg></body></html>
